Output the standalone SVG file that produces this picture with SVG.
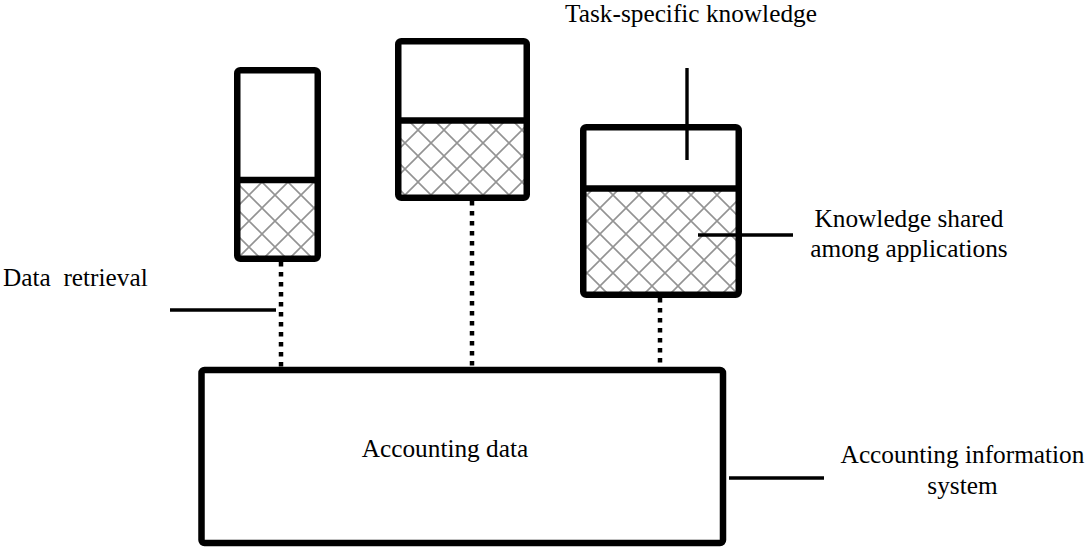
<svg xmlns="http://www.w3.org/2000/svg" width="1086" height="548" viewBox="0 0 1086 548">
<style>
.box{fill:none;stroke:#000;stroke-width:6.5;stroke-linejoin:round}
.div{stroke:#000;stroke-width:6.5}
.hatch{fill:url(#lattice);stroke:none}
.conn{stroke:#000;stroke-width:4.5;stroke-dasharray:4.5 5.5;fill:none}
.lead{stroke:#000;stroke-width:3.4;fill:none}
.t{font-size:25.3px;fill:#000}
</style>
<defs>
<pattern id="lattice" patternUnits="userSpaceOnUse" x="2" y="0" width="26" height="26">
<rect width="26" height="26" fill="#fff"/>
<path d="M0 0L26 26M26 0L0 26" stroke="#939393" stroke-width="1.6"/>
</pattern>
</defs>
<rect width="1086" height="548" fill="#fff"/>
<g id="connectors">
<line class="conn" x1="281" y1="262" x2="281" y2="367"/>
<line class="conn" x1="472" y1="201" x2="472" y2="367"/>
<line class="conn" x1="660" y1="298" x2="660" y2="367"/>
</g>
<g id="app1">
<rect class="hatch" x="237" y="180" width="81" height="79"/>
<rect class="box" x="237.25" y="70.25" width="80.5" height="188.5" rx="3"/>
<line class="div" x1="237" y1="180" x2="318" y2="180"/>
</g>
<g id="app2">
<rect class="hatch" x="398" y="120" width="129" height="78"/>
<rect class="box" x="398.25" y="41.25" width="128.5" height="156.5" rx="3"/>
<line class="div" x1="398" y1="120.5" x2="527" y2="120.5"/>
</g>
<g id="app3">
<rect class="hatch" x="583" y="188" width="156" height="107"/>
<rect class="box" x="583.25" y="127.25" width="155.5" height="167.5" rx="3"/>
<line class="div" x1="583" y1="188.5" x2="739" y2="188.5"/>
</g>
<g id="accounting-data">
<rect class="box" x="201.5" y="370" width="521.5" height="173" rx="3"/>
<text class="t" font-family="Liberation Serif, Times New Roman, serif" x="445" y="457" text-anchor="middle">Accounting data</text>
</g>
<g id="labels" font-family="Liberation Serif, Times New Roman, serif">
<line class="lead" x1="170" y1="310" x2="276" y2="310"/>
<text class="t" x="3" y="286" xml:space="preserve" style="white-space:pre">Data  retrieval</text>
<line class="lead" x1="687" y1="68" x2="687" y2="160"/>
<text class="t" x="691" y="22" text-anchor="middle">Task-specific knowledge</text>
<line class="lead" x1="698" y1="235" x2="793" y2="235"/>
<text class="t" x="909" y="227" text-anchor="middle">Knowledge shared</text>
<text class="t" x="909" y="257" text-anchor="middle">among applications</text>
<line class="lead" x1="729" y1="478" x2="824" y2="478"/>
<text class="t" x="962.5" y="463" text-anchor="middle">Accounting information</text>
<text class="t" x="962.5" y="494" text-anchor="middle">system</text>
</g>
</svg>
